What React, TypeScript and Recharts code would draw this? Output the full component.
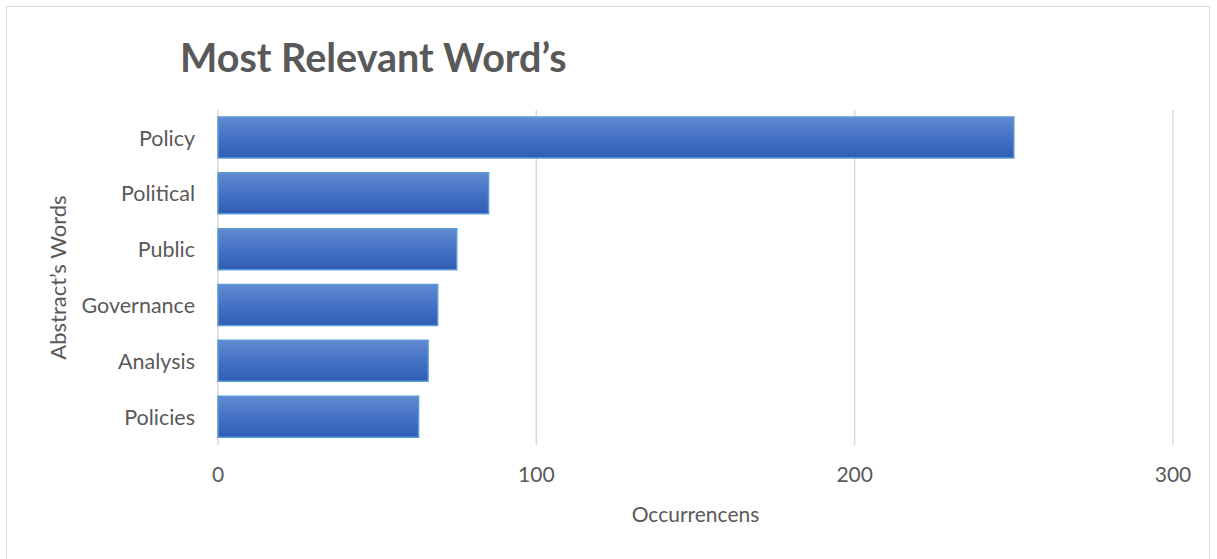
import { BarChart, Bar, XAxis, YAxis, CartesianGrid } from 'recharts';

const words = ['Policy', 'Political', 'Public', 'Governance', 'Analysis', 'Policies'];
const occurrences = [250, 85, 75, 69, 66, 63];
const xTicks = [0, 100, 200, 300];

const chartData = words.map((w, i) => ({ word: w, count: occurrences[i] }));

const FONT = 'Lato, "Open Sans", sans-serif';
const GREY = '#595959';

const YTitle = (props: any) => {
  const { viewBox } = props;
  const cx = viewBox.x + 57;
  const cy = viewBox.y + viewBox.height / 2;
  return (
    <text
      x={cx}
      y={cy}
      transform={`rotate(-90, ${cx}, ${cy})`}
      textAnchor="middle"
      dominantBaseline="central"
      fill={GREY}
      fontSize={22}
      fontFamily={FONT}
    >
      Abstract’s Words
    </text>
  );
};

export default function App() {
  return (
    <div
      style={{
        position: 'absolute',
        left: 0,
        top: 0,
        width: 1217,
        height: 559,
        background: '#fff',
        fontFamily: FONT,
      }}
    >
      {/* chart frame */}
      <div
        style={{
          position: 'absolute',
          left: 6,
          top: 6,
          width: 1204,
          height: 560,
          border: '1px solid #d9d9d9',
          boxSizing: 'border-box',
        }}
      />
      <div
        style={{
          position: 'absolute',
          left: 180,
          top: 37,
          fontSize: 39.5,
          lineHeight: '39px',
          fontWeight: 700,
          color: GREY,
          whiteSpace: 'nowrap',
        }}
      >
        Most Relevant Word’s
      </div>
      <BarChart
        width={1217}
        height={559}
        data={chartData}
        layout="vertical"
        margin={{ top: 110, right: 44, bottom: 34, left: 0 }}
        barSize={41}
        style={{ position: 'absolute', left: 0, top: 0 }}
      >
        <defs>
          <linearGradient id="barGrad" x1="0" y1="0" x2="0" y2="1">
            <stop offset="0%" stopColor="#6389d1" />
            <stop offset="50%" stopColor="#4472c4" />
            <stop offset="100%" stopColor="#2e5db4" />
          </linearGradient>
        </defs>
        <CartesianGrid horizontal={false} stroke="#d9d9d9" strokeWidth={1.5} />
        <XAxis
          type="number"
          domain={[0, 300]}
          ticks={xTicks}
          axisLine={false}
          tickLine={false}
          tickSize={0}
          tickMargin={22}
          height={80}
          tick={{ fill: GREY, fontSize: 21, fontFamily: FONT }}
          label={{
            value: 'Occurrencens',
            position: 'insideBottom',
            offset: 3,
            fill: GREY,
            fontSize: 21,
            fontFamily: FONT,
          }}
        />
        <YAxis
          type="category"
          dataKey="word"
          width={218}
          axisLine={false}
          tickLine={false}
          tickSize={0}
          tickMargin={23}
          tick={{ fill: GREY, fontSize: 21.5, fontFamily: FONT }}
          label={{ content: <YTitle /> }}
        />
        <Bar
          dataKey="count"
          fill="url(#barGrad)"
          stroke="#5b9bd5"
          strokeWidth={1.5}
          isAnimationActive={false}
        />
      </BarChart>
    </div>
  );
}
